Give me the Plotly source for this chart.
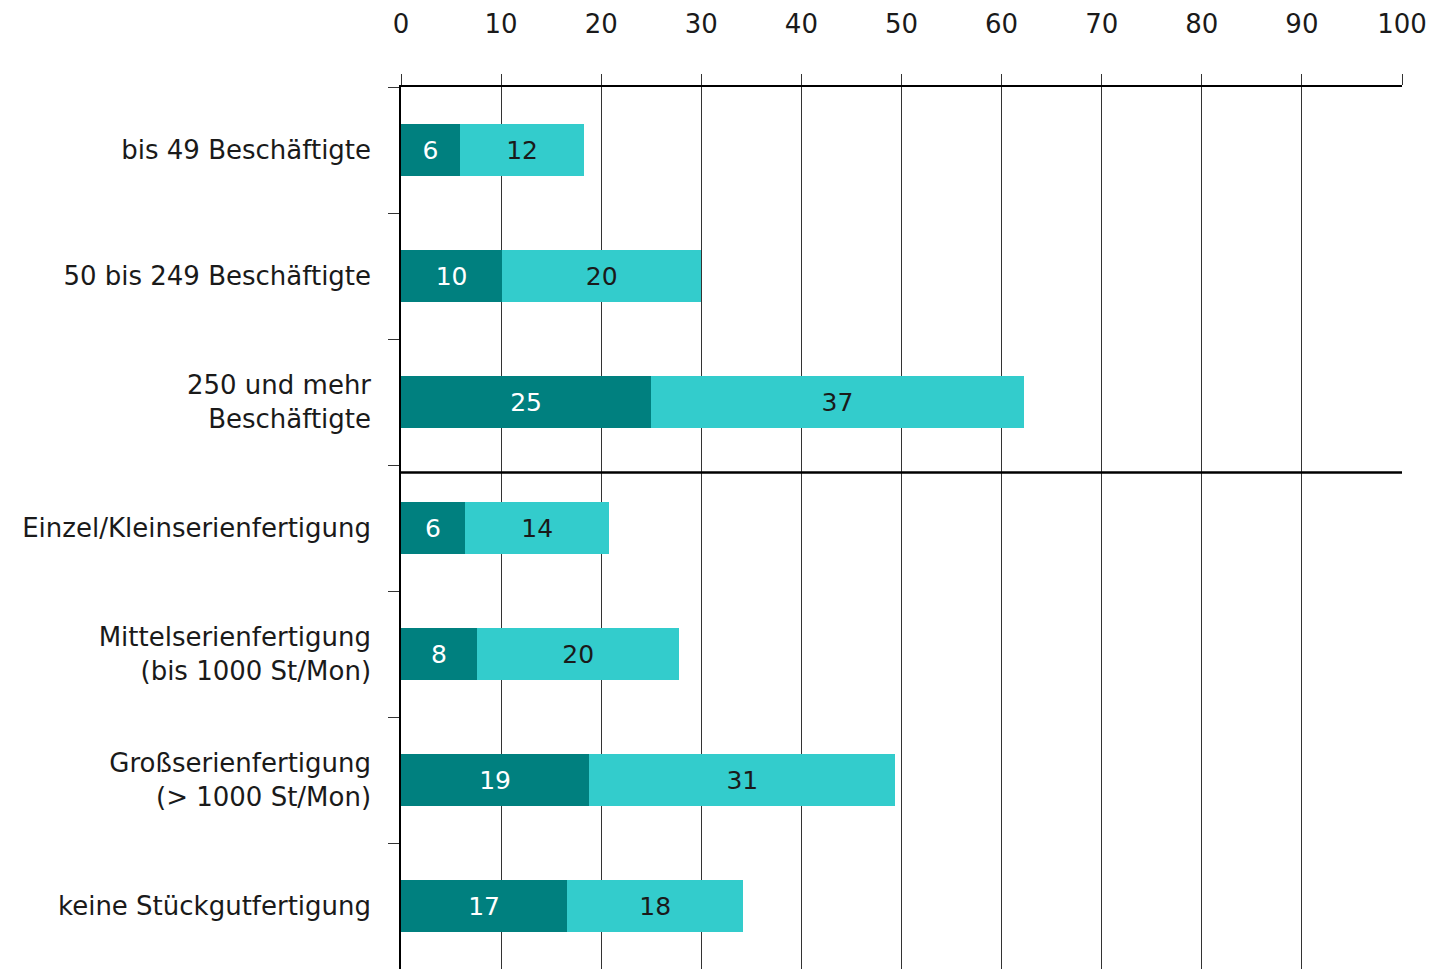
import plotly.graph_objects as go

categories = [
    "bis 49 Beschäftigte",
    "50 bis 249 Beschäftigte",
    "250 und mehr<br>Beschäftigte",
    "Einzel/Kleinserienfertigung",
    "Mittelserienfertigung<br>(bis 1000 St/Mon)",
    "Großserienfertigung<br>(> 1000 St/Mon)",
    "keine Stückgutfertigung",
]
dark_values = [5.9, 10.1, 25.0, 6.4, 7.6, 18.8, 16.6]
light_values = [12.4, 19.9, 37.2, 14.4, 20.2, 30.6, 17.6]
x_ticks = [0, 10, 20, 30, 40, 50, 60, 70, 80, 90, 100]

DARK = "#00807F"
LIGHT = "#33CCCC"
FONT = "DejaVu Sans"
TEXT = "#1a1a1a"

fig = go.Figure()
fig.add_trace(go.Bar(
    y=categories, x=dark_values, orientation="h", marker=dict(color=DARK, line=dict(width=0)),
    width=0.41, texttemplate="%{x:.0f}", textposition="inside", insidetextanchor="middle",
    textfont=dict(color="white", size=25, family=FONT), textangle=0,
))
fig.add_trace(go.Bar(
    y=categories, x=light_values, orientation="h", marker=dict(color=LIGHT, line=dict(width=0)),
    width=0.41, texttemplate="%{x:.0f}", textposition="inside", insidetextanchor="middle",
    textfont=dict(color=TEXT, size=25, family=FONT), textangle=0,
))

fig.add_shape(type="line", xref="x", yref="y", x0=0, x1=100, y0=2.56, y1=2.56,
              line=dict(color="black", width=2.5))

fig.update_layout(
    barmode="stack",
    width=1431, height=969,
    margin=dict(l=401, r=29, t=87, b=0),
    paper_bgcolor="white", plot_bgcolor="white",
    showlegend=False,
    font=dict(family=FONT, size=26, color=TEXT),
    uniformtext=dict(mode=False),
)
fig.update_xaxes(
    side="top", range=[0, 100], tickvals=x_ticks, ticktext=[str(v) for v in x_ticks],
    showgrid=True, gridcolor="#333333", gridwidth=1,
    showline=True, linecolor="black", linewidth=1.5,
    ticks="outside", ticklen=11, tickcolor="#333333", tickwidth=1,
    ticklabelstandoff=31, tickfont=dict(size=26, family=FONT, color=TEXT),
    zeroline=False, fixedrange=True,
)
fig.update_yaxes(
    type="category", categoryorder="array", categoryarray=categories,
    autorange="reversed", range=[6.5, -0.5],
    showline=True, linecolor="black", linewidth=1.5,
    ticks="outside", ticklen=11, tickcolor="#333333", tickwidth=1, tickson="boundaries",
    showgrid=False, ticklabelstandoff=23,
    tickfont=dict(size=26, family=FONT, color=TEXT),
    fixedrange=True,
)

fig.write_html("out.html")
